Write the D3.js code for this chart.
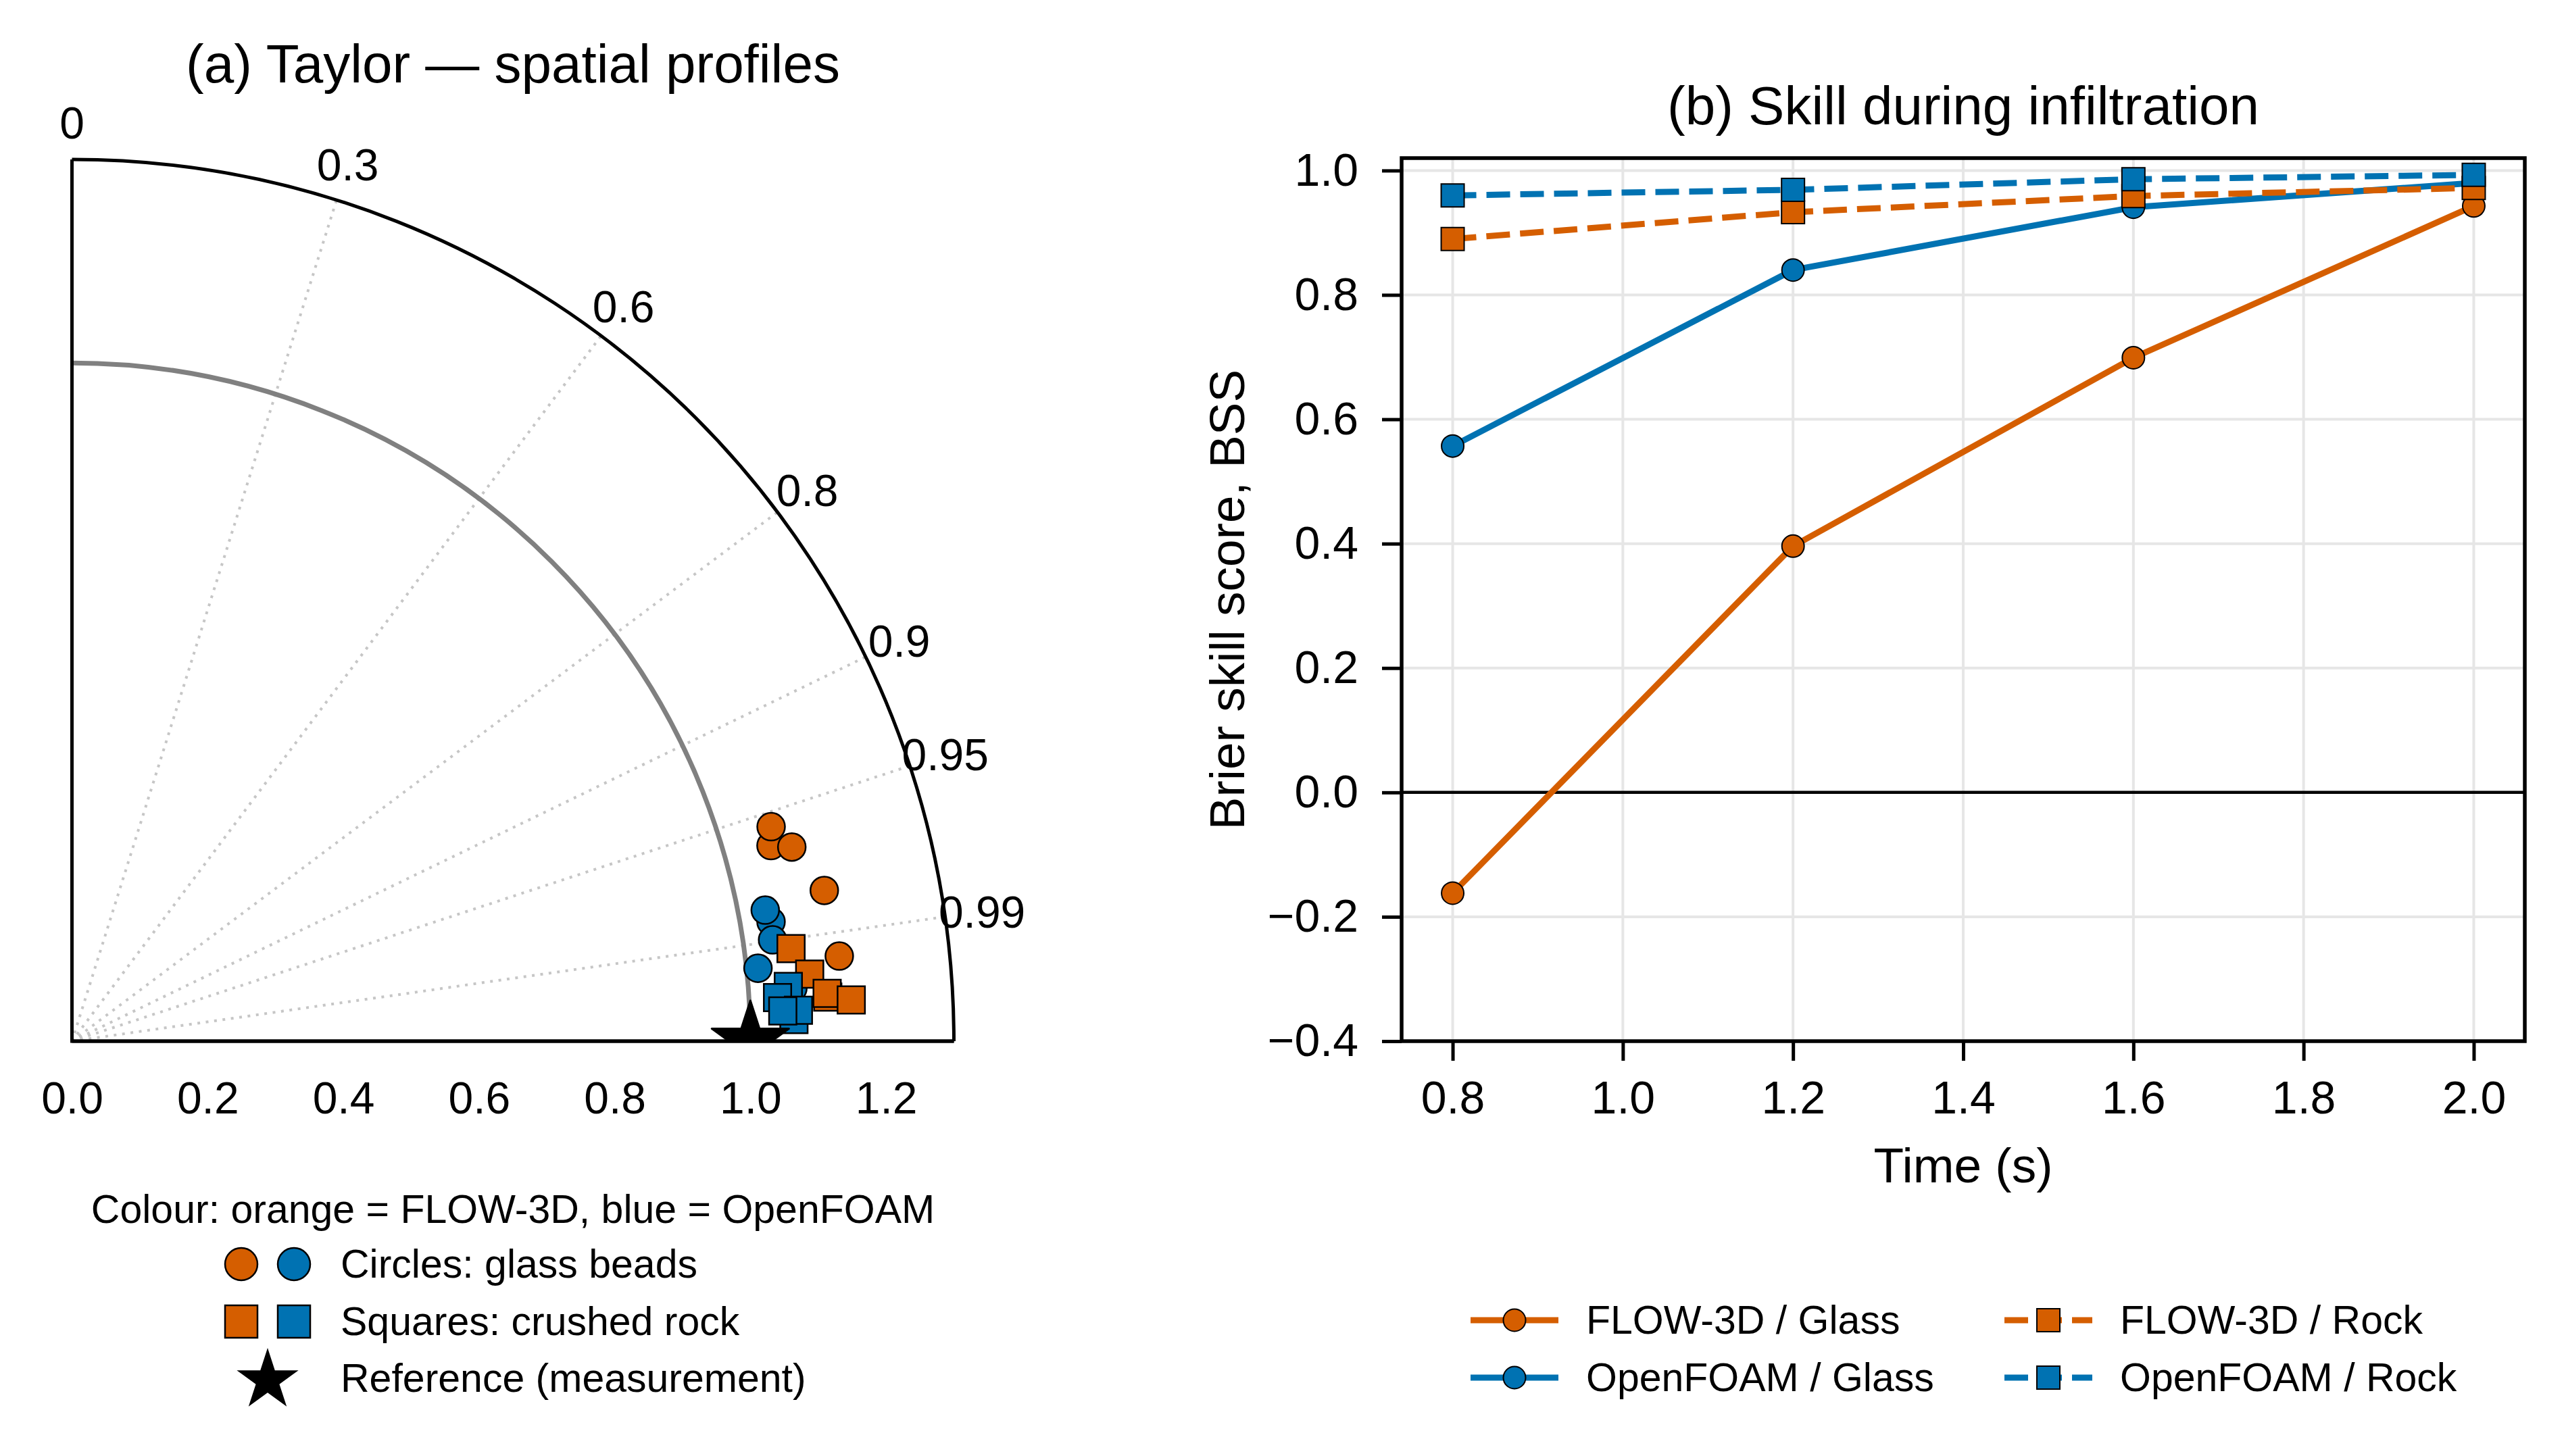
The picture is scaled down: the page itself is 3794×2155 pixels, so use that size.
<!DOCTYPE html>
<html lang="en">
<head>
<meta charset="UTF-8">
<title>Taylor and skill</title>
<style>
  * { margin: 0; padding: 0; box-sizing: border-box; }
  body { background: #fff; }
  svg text { font-family: "Liberation Sans", Arial, sans-serif; fill: #000; }
</style>
</head>
<body>
<svg id="fig" width="3794" height="2155"></svg>
<script src="https://d3js.org/d3.v7.min.js"></script>
<script>
// ---- data ----
// Taylor points: [standard deviation (normalised), correlation]
const flowGlassTaylor = [[1.070, 0.963], [1.078, 0.956], [1.099, 0.9655], [1.131, 0.9805], [1.138, 0.9939]];
const foamGlassTaylor = [[1.0655, 0.9973], [1.0454, 0.9857], [1.040, 0.9826], [1.0435, 0.9897], [1.0169, 0.9944]];
const flowRockTaylor = [[1.0687, 0.9918], [1.0919, 0.9959], [1.116, 0.9983], [1.1154, 0.9980], [1.1503, 0.9986]];
const foamRockTaylor = [[1.0647, 0.99955], [1.059, 0.9971], [1.042, 0.9981], [1.0718, 0.9991], [1.0487, 0.9991]];
const referenceStd = 1.0;
const corrTicks = [0, 0.3, 0.6, 0.8, 0.9, 0.95, 0.99];
const stdTicks = [0, 0.2, 0.4, 0.6, 0.8, 1.0, 1.2];

// Brier skill score over time
const times = [0.8, 1.2, 1.6, 2.0];
const bssFlowGlass = [-0.162, 0.396, 0.699, 0.943];
const bssFoamGlass = [0.557, 0.840, 0.941, 0.980];
const bssFlowRock = [0.890, 0.933, 0.959, 0.972];
const bssFoamRock = [0.960, 0.969, 0.986, 0.993];
const timeTicks = [0.8, 1.0, 1.2, 1.4, 1.6, 1.8, 2.0];
const bssTicks = [-0.4, -0.2, 0.0, 0.2, 0.4, 0.6, 0.8, 1.0];

const ORANGE = "#D55E00", BLUE = "#0072B2";

const svg = d3.select("#fig");
svg.append("rect").attr("width", 3794).attr("height", 2155).attr("fill", "#fff");

// ================= (a) Taylor diagram =================
const ox = 106.5, oy = 1541;
const rMax = 1.3;
const r = d3.scaleLinear().domain([0, rMax]).range([0, 1305]);
const xStd = d3.scaleLinear().domain([0, rMax]).range([ox, ox + 1305]);

function polar(std, corr) {
  const th = Math.acos(corr);
  return [ox + r(std) * Math.cos(th), oy - r(std) * Math.sin(th)];
}

const ta = svg.append("g");

// correlation rays
corrTicks.filter(c => c > 0).forEach(function(c) {
  const p = polar(rMax, c);
  ta.append("line")
    .attr("x1", ox).attr("y1", oy).attr("x2", p[0]).attr("y2", p[1])
    .attr("stroke", "#c6c6c6").attr("stroke-width", 4)
    .attr("stroke-dasharray", "4 8.5");
});

// reference std arc
const refArc = d3.path();
refArc.arc(ox, oy, r(referenceStd), -Math.PI / 2, 0);
ta.append("path").attr("d", refArc.toString())
  .attr("fill", "none").attr("stroke", "#808080").attr("stroke-width", 7);

// outer arc and the two straight edges
const outer = d3.path();
outer.moveTo(ox, oy - r(rMax));
outer.arc(ox, oy, r(rMax), -Math.PI / 2, 0);
ta.append("path").attr("d", outer.toString())
  .attr("fill", "none").attr("stroke", "#000").attr("stroke-width", 5);
ta.append("path")
  .attr("d", `M${ox},${oy - r(rMax)}L${ox},${oy}L${xStd(rMax)},${oy}`)
  .attr("fill", "none").attr("stroke", "#000").attr("stroke-width", 5)
  .attr("stroke-linejoin", "miter");

// correlation labels
corrTicks.forEach(function(c) {
  const p = polar(1.355, c);
  ta.append("text").attr("x", p[0]).attr("y", p[1]).attr("dy", "0.36em")
    .attr("text-anchor", "middle").style("font-size", "66px")
    .text(String(c));
});

// std axis labels (no tick marks)
const axA = ta.append("g").attr("transform", `translate(0,${oy})`)
  .call(d3.axisBottom(xStd).tickValues(stdTicks).tickSize(0).tickPadding(60).tickFormat(d3.format(".1f")));
axA.select(".domain").remove();
axA.selectAll("text").style("font-size", "66px").style("font-family", "'Liberation Sans', Arial, sans-serif");

// markers
const circleSym = d3.symbol().type(d3.symbolCircle).size(Math.PI * 20.5 * 20.5);
const squareSym = d3.symbol().type(d3.symbolSquare).size(40.5 * 40.5);
function drawTaylor(data, sym, color) {
  ta.append("g").selectAll("path").data(data).join("path")
    .attr("transform", d => `translate(${polar(d[0], d[1])})`)
    .attr("d", sym)
    .attr("fill", color).attr("stroke", "#000").attr("stroke-width", 2.5);
}
drawTaylor(flowGlassTaylor, circleSym, ORANGE);
drawTaylor(foamGlassTaylor, circleSym, BLUE);
drawTaylor(flowRockTaylor, squareSym, ORANGE);
drawTaylor(foamRockTaylor, squareSym, BLUE);

// reference star, clipped at the axis line
svg.append("clipPath").attr("id", "taylorClip")
  .append("rect").attr("x", ox).attr("y", oy - r(rMax)).attr("width", r(rMax)).attr("height", r(rMax));
const starSym = d3.symbol().type(d3.symbolStar).size(60 * 60 / 0.8908130915292852);
ta.append("g").attr("clip-path", "url(#taylorClip)")
  .append("path")
  .attr("transform", `translate(${polar(referenceStd, 1)})`)
  .attr("d", starSym).attr("fill", "#000")
  .attr("stroke", "#000").attr("stroke-width", 3).attr("stroke-linejoin", "round");
// redraw bottom edge above the star
ta.append("line").attr("x1", ox).attr("x2", xStd(rMax)).attr("y1", oy).attr("y2", oy)
  .attr("stroke", "#000").attr("stroke-width", 5);

ta.append("text").attr("x", 759).attr("y", 122).attr("text-anchor", "middle")
  .style("font-size", "80px").text("(a) Taylor \u2014 spatial profiles");

// legend for (a)
const la = svg.append("g").style("font-size", "59px");
la.append("text").attr("x", 759).attr("y", 1810).attr("text-anchor", "middle")
  .text("Colour: orange = FLOW-3D, blue = OpenFOAM");
const legCircle = d3.symbol().type(d3.symbolCircle).size(Math.PI * 24 * 24);
const legSquare = d3.symbol().type(d3.symbolSquare).size(48 * 48);
const legRows = [
  { y: 1871, sym: legCircle, colors: [ORANGE, BLUE], label: "Circles: glass beads" },
  { y: 1956, sym: legSquare, colors: [ORANGE, BLUE], label: "Squares: crushed rock" }
];
legRows.forEach(function(row) {
  [357, 435].forEach(function(x, i) {
    la.append("path").attr("transform", `translate(${x},${row.y})`).attr("d", row.sym)
      .attr("fill", row.colors[i]).attr("stroke", "#000").attr("stroke-width", 2.5);
  });
  la.append("text").attr("x", 504).attr("y", row.y + 20).text(row.label);
});
la.append("path").attr("transform", "translate(396,2043)")
  .attr("d", d3.symbol().type(d3.symbolStar).size(48 * 48 / 0.8908130915292852)).attr("fill", "#000");
la.append("text").attr("x", 504).attr("y", 2040 + 20).text("Reference (measurement)");

// ================= (b) Brier skill score =================
const L = 2074, R = 3736, T = 234, B = 1541;
const x = d3.scaleLinear().domain([0.74, 2.06]).range([L, R]);
const y = d3.scaleLinear().domain([-0.4, 1.02]).range([B, T]);
const tb = svg.append("g");

// grid
tb.append("g").selectAll("line").data(timeTicks).join("line")
  .attr("x1", d => x(d)).attr("x2", d => x(d)).attr("y1", T).attr("y2", B)
  .attr("stroke", "#e6e6e6").attr("stroke-width", 4);
tb.append("g").selectAll("line").data(bssTicks).join("line")
  .attr("x1", L).attr("x2", R).attr("y1", d => y(d)).attr("y2", d => y(d))
  .attr("stroke", "#e6e6e6").attr("stroke-width", 4);

// zero line
tb.append("line").attr("x1", L).attr("x2", R).attr("y1", y(0)).attr("y2", y(0))
  .attr("stroke", "#000").attr("stroke-width", 4.5);

const series = [
  { vals: bssFlowGlass, color: ORANGE, dash: null, sym: "circle", label: "FLOW-3D / Glass" },
  { vals: bssFoamGlass, color: BLUE, dash: null, sym: "circle", label: "OpenFOAM / Glass" },
  { vals: bssFlowRock, color: ORANGE, dash: "35 15", sym: "square", label: "FLOW-3D / Rock" },
  { vals: bssFoamRock, color: BLUE, dash: "35 15", sym: "square", label: "OpenFOAM / Rock" }
];
const bCircle = d3.symbol().type(d3.symbolCircle).size(Math.PI * 16.5 * 16.5);
const bSquare = d3.symbol().type(d3.symbolSquare).size(34 * 34);
const line = d3.line().x(d => x(d[0])).y(d => y(d[1]));

series.forEach(function(s) {
  const pts = times.map((t, i) => [t, s.vals[i]]);
  tb.append("path").datum(pts).attr("d", line)
    .attr("fill", "none").attr("stroke", s.color).attr("stroke-width", 9)
    .attr("stroke-dasharray", s.dash);
  tb.append("g").selectAll("path").data(pts).join("path")
    .attr("transform", d => `translate(${x(d[0])},${y(d[1])})`)
    .attr("d", s.sym === "circle" ? bCircle : bSquare)
    .attr("fill", s.color).attr("stroke", "#000").attr("stroke-width", 2);
});

// frame
tb.append("rect").attr("x", L).attr("y", T).attr("width", R - L).attr("height", B - T)
  .attr("fill", "none").attr("stroke", "#000").attr("stroke-width", 5.5);

// axes
const axX = tb.append("g").attr("transform", `translate(0,${B})`)
  .call(d3.axisBottom(x).tickValues(timeTicks).tickSize(29).tickPadding(30).tickFormat(d3.format(".1f")));
const axY = tb.append("g").attr("transform", `translate(${L},0)`)
  .call(d3.axisLeft(y).tickValues(bssTicks).tickSize(29).tickPadding(35).tickFormat(d3.format(".1f")));
[axX, axY].forEach(function(ax) {
  ax.select(".domain").remove();
  ax.selectAll("line").attr("stroke", "#000").attr("stroke-width", 5);
  ax.selectAll("text").style("font-size", "68px").style("font-family", "'Liberation Sans', Arial, sans-serif");
});

tb.append("text").attr("x", (L + R) / 2).attr("y", 184).attr("text-anchor", "middle")
  .style("font-size", "80px").text("(b) Skill during infiltration");
tb.append("text").attr("x", (L + R) / 2).attr("y", 1750).attr("text-anchor", "middle")
  .style("font-size", "73px").text("Time (s)");
tb.append("text").attr("transform", `translate(1841,${(T + B) / 2}) rotate(-90)`)
  .attr("text-anchor", "middle").style("font-size", "73px").text("Brier skill score, BSS");

// legend for (b)
const lb = svg.append("g").style("font-size", "59px");
const legPos = [[2176, 1954], [2176, 2039], [2966, 1954], [2966, 2039]];
series.forEach(function(s, i) {
  const p = legPos[i];
  lb.append("line").attr("x1", p[0]).attr("x2", p[0] + 130).attr("y1", p[1]).attr("y2", p[1])
    .attr("stroke", s.color).attr("stroke-width", 9).attr("stroke-dasharray", s.dash);
  lb.append("path").attr("transform", `translate(${p[0] + 65},${p[1]})`)
    .attr("d", s.sym === "circle" ? bCircle : bSquare)
    .attr("fill", s.color).attr("stroke", "#000").attr("stroke-width", 2);
  lb.append("text").attr("x", p[0] + 171).attr("y", p[1] + 20).text(s.label);
});
</script>
</body>
</html>
